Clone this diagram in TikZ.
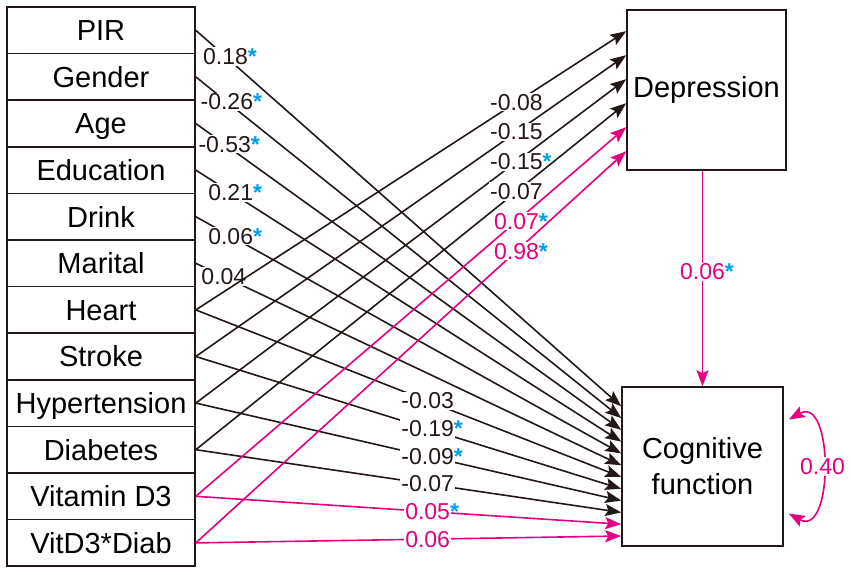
\documentclass[tikz,border=0pt]{standalone}
\usepackage{fontspec}
\setmainfont{Liberation Sans}
\usetikzlibrary{arrows.meta,calc}
\definecolor{ink}{HTML}{231815}
\definecolor{mag}{HTML}{E4007F}
\definecolor{starc}{HTML}{00A0E9}
\newcommand{\sigstar}{\rlap{\textcolor{starc}{\bfseries *}}}
\begin{document}
\begin{tikzpicture}[x=1pt,y=-1pt,
  headtip/.tip={Stealth[length=16pt,width=12pt,inset=3pt]},
  varbox/.style={draw=ink, line width=1.6pt, minimum width=188pt, minimum height=46.6pt,
    inner sep=0pt, text height=24pt, text depth=3.2pt, font=\fontsize{29}{34}\selectfont},
  bigbox/.style={draw=ink, line width=1.6pt, inner sep=0pt, align=center,
    font=\fontsize{29}{36}\selectfont},
  conn/.style={draw=ink, line width=1.6pt, -headtip},
  magconn/.style={draw=mag, line width=1.6pt, -headtip},
  coef/.style={fill=white, inner sep=1pt, text=ink, font=\fontsize{23}{23}\selectfont},
  magcoef/.style={coef, text=mag}]
\useasboundingbox (0,0) rectangle (851,574);

% left variable column
\node[varbox] (pir) at (101,30.3)  {PIR};
\node[varbox] (gen) at (101,76.9)  {Gender};
\node[varbox] (age) at (101,123.5) {Age};
\node[varbox] (edu) at (101,170.1) {Education};
\node[varbox] (drk) at (101,216.7) {Drink};
\node[varbox] (mar) at (101,263.3) {Marital};
\node[varbox] (hrt) at (101,309.9) {Heart};
\node[varbox] (stk) at (101,356.5) {Stroke};
\node[varbox] (hyp) at (101,403.1) {Hypertension};
\node[varbox] (dia) at (101,449.7) {Diabetes};
\node[varbox] (vd3) at (101,496.3) {Vitamin D3};
\node[varbox] (vdd) at (101,542.9) {VitD3*Diab};

% outcome boxes
\node[bigbox, minimum width=159pt, minimum height=160pt] (dep) at (706.5,90) {Depression};
\node[bigbox, minimum width=161pt, minimum height=159pt] (cog) at (702.5,466.5) {Cognitive\\function};

% paths to cognitive function
\draw[conn] (pir.east) -- node[coef,pos=0.07]  {0.18\sigstar}  ([yshift=-20pt]cog.north west);
\draw[conn] (gen.east) -- node[coef,pos=0.073] {-0.26\sigstar} ([yshift=-31.8pt]cog.north west);
\draw[conn] (age.east) -- node[coef,pos=0.068] {-0.53\sigstar} ([yshift=-43.6pt]cog.north west);
\draw[conn] (edu.east) -- node[coef,pos=0.082] {0.21\sigstar}  ([yshift=-55.4pt]cog.north west);
\draw[conn] (drk.east) -- node[coef,pos=0.082] {0.06\sigstar}  ([yshift=-67.2pt]cog.north west);
\draw[conn] (mar.east) -- node[coef,pos=0.066] {0.04}          ([yshift=-79pt]cog.north west);
\draw[conn] (hrt.east) -- node[coef,pos=0.545] {-0.03}         ([yshift=-90.8pt]cog.north west);
\draw[conn] (stk.east) -- node[coef,pos=0.545] {-0.19\sigstar} ([yshift=-102.6pt]cog.north west);
\draw[conn] (hyp.east) -- node[coef,pos=0.545] {-0.09\sigstar} ([yshift=-114.4pt]cog.north west);
\draw[conn] (dia.east) -- node[coef,pos=0.545] {-0.07}         ([yshift=-126.2pt]cog.north west);
\draw[magconn] (vd3.east) -- node[magcoef,pos=0.545] {0.05\sigstar} ([yshift=-138pt]cog.north west);
\draw[magconn] (vdd.east) -- node[magcoef,pos=0.545] {0.06}         ([yshift=-149.8pt]cog.north west);

% paths to depression
\draw[conn] (hrt.east) -- node[coef,pos=0.745] {-0.08}         ([yshift=-22pt]dep.north west);
\draw[conn] (stk.east) -- node[coef,pos=0.745] {-0.15}         ([yshift=-46pt]dep.north west);
\draw[conn] (hyp.east) -- node[coef,pos=0.745] {-0.15\sigstar} ([yshift=-70pt]dep.north west);
\draw[conn] (dia.east) -- node[coef,pos=0.745] {-0.07}         ([yshift=-94pt]dep.north west);
\draw[magconn] (vd3.east) -- node[magcoef,pos=0.745] {0.07\sigstar} ([yshift=-118pt]dep.north west);
\draw[magconn] (vdd.east) -- node[magcoef,pos=0.745] {0.98\sigstar} ([yshift=-142pt]dep.north west);

% depression -> cognitive function
\draw[magconn] (dep.south -| cog.north) -- node[magcoef,pos=0.47] {0.06\sigstar} (cog.north);

% residual variance loop
\draw[magconn, headtip-headtip] ([xshift=5pt,yshift=47pt]cog.east) .. controls +(45,-25) and +(45,25) ..
  node[magcoef] {0.40} ([xshift=5pt,yshift=-47pt]cog.east);
\end{tikzpicture}
\end{document}
